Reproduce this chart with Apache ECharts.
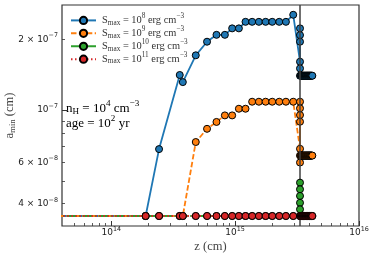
<!DOCTYPE html>
<html><head><meta charset="utf-8">
<script src="https://cdn.jsdelivr.net/npm/echarts@6/dist/echarts.min.js"></script>
<style>html,body{margin:0;padding:0;background:#fff}#c{width:374px;height:260px}</style>
</head><body><div id="c"></div>
<script>
// ---- data ----
const seriesExps = ['8', '9', '10', '11'];
const seriesColors = ['#1f77b4', '#ff7f0e', '#2ca02c', '#d62728'];
const zMain = [1e13, 1.894e14, 2.43e14, 3.57e14, 3.78e14, 4.81e14, 5.93e14, 7.07e14, 8.26e14, 9.46e14,
  1.072e15, 1.213e15, 1.372e15, 1.555e15, 1.762e15, 1.993e15, 2.27e15, 2.57e15, 2.944e15];
const blueMain = [3.54e-8, 3.54e-8, 6.82e-8, 1.41e-7, 1.315e-7, 1.71e-7, 1.954e-7, 2.09e-7, 2.09e-7, 2.227e-7,
  2.227e-7, 2.374e-7, 2.374e-7, 2.374e-7, 2.374e-7, 2.374e-7, 2.374e-7, 2.374e-7, 2.544e-7];
const orangeMain = [3.54e-8, 3.54e-8, 3.54e-8, 3.54e-8, 3.54e-8, 7.31e-8, 8.32e-8, 8.9e-8, 9.49e-8, 9.49e-8,
  1.013e-7, 1.013e-7, 1.085e-7, 1.085e-7, 1.085e-7, 1.085e-7, 1.085e-7, 1.085e-7, 1.085e-7];
const greenMain = [3.54e-8, 3.54e-8, 3.54e-8, 3.54e-8, 3.54e-8, 3.54e-8, 3.54e-8, 3.54e-8, 3.54e-8, 3.54e-8,
  3.54e-8, 3.54e-8, 3.54e-8, 3.54e-8, 3.54e-8, 3.54e-8, 3.54e-8, 3.54e-8, 3.54e-8];
const redMain = [3.54e-8, 3.54e-8, 3.54e-8, 3.54e-8, 3.54e-8, 3.54e-8, 3.54e-8, 3.54e-8, 3.54e-8, 3.54e-8,
  3.54e-8, 3.54e-8, 3.54e-8, 3.54e-8, 3.54e-8, 3.54e-8, 3.54e-8, 3.54e-8, 3.54e-8];
const zShock = 3.34e15;
const blueShock = [1.606e-7, 2.227e-7, 2.084e-7, 1.954e-7, 1.504e-7, 1.40e-7];
const orangeShock = [6.84e-8, 1.085e-7, 1.017e-7, 9.52e-8, 8.92e-8, 5.98e-8, 6.4e-8];
const greenShock = [3.54e-8, 4.91e-8, 4.6e-8, 4.31e-8, 4.03e-8, 3.78e-8, 3.54e-8];
const redShock = [3.54e-8];
const zTail = [3.37e15, 3.40e15, 3.43e15, 3.46e15, 3.49e15, 3.52e15, 3.55e15, 3.58e15, 3.61e15, 3.64e15,
  3.67e15, 3.70e15, 3.73e15, 3.76e15, 3.79e15, 3.82e15, 3.85e15, 3.88e15, 3.91e15, 3.94e15,
  3.97e15, 4.00e15, 4.03e15, 4.06e15, 4.09e15, 4.12e15, 4.16e15, 4.20e15];
const blueTail = [1.40e-7, 1.40e-7, 1.40e-7, 1.40e-7, 1.40e-7, 1.40e-7, 1.40e-7, 1.40e-7, 1.40e-7, 1.40e-7,
  1.40e-7, 1.40e-7, 1.40e-7, 1.40e-7, 1.40e-7, 1.40e-7, 1.40e-7, 1.40e-7, 1.40e-7, 1.40e-7,
  1.40e-7, 1.40e-7, 1.40e-7, 1.40e-7, 1.40e-7, 1.40e-7, 1.40e-7, 1.40e-7];
const orangeTail = [6.4e-8, 6.4e-8, 6.4e-8, 6.4e-8, 6.4e-8, 6.4e-8, 6.4e-8, 6.4e-8, 6.4e-8, 6.4e-8,
  6.4e-8, 6.4e-8, 6.4e-8, 6.4e-8, 6.4e-8, 6.4e-8, 6.4e-8, 6.4e-8, 6.4e-8, 6.4e-8,
  6.4e-8, 6.4e-8, 6.4e-8, 6.4e-8, 6.4e-8, 6.4e-8, 6.4e-8, 6.4e-8];
const greenTail = [3.54e-8, 3.54e-8, 3.54e-8, 3.54e-8, 3.54e-8, 3.54e-8, 3.54e-8, 3.54e-8, 3.54e-8, 3.54e-8,
  3.54e-8, 3.54e-8, 3.54e-8, 3.54e-8, 3.54e-8, 3.54e-8, 3.54e-8, 3.54e-8, 3.54e-8, 3.54e-8,
  3.54e-8, 3.54e-8, 3.54e-8, 3.54e-8, 3.54e-8, 3.54e-8, 3.54e-8, 3.54e-8];
const redTail = [3.54e-8, 3.54e-8, 3.54e-8, 3.54e-8, 3.54e-8, 3.54e-8, 3.54e-8, 3.54e-8, 3.54e-8, 3.54e-8,
  3.54e-8, 3.54e-8, 3.54e-8, 3.54e-8, 3.54e-8, 3.54e-8, 3.54e-8, 3.54e-8, 3.54e-8, 3.54e-8,
  3.54e-8, 3.54e-8, 3.54e-8, 3.54e-8, 3.54e-8, 3.54e-8, 3.54e-8, 3.54e-8];

const xMin = 4e13, xMax = 1e16, yMin = 3.21e-8, yMax = 2.8e-7;
const xMajorTicks = [1e14, 1e15, 1e16];
const xTickExps = ['14', '15', '16'];
const xMinorTicks = [5e13, 6e13, 7e13, 8e13, 9e13, 2e14, 3e14, 4e14, 5e14, 6e14, 7e14, 8e14, 9e14,
  2e15, 3e15, 4e15, 5e15, 6e15, 7e15, 8e15, 9e15];
const yMajorTicks = [1e-7];
const yMinorTicks = [4e-8, 5e-8, 6e-8, 7e-8, 8e-8, 9e-8, 2e-7];
const yLabelTicks = [4e-8, 6e-8, 1e-7, 2e-7];
const yLabelMant = ['4', '6', '', '2'];
const yLabelExps = ['−8', '−8', '−7', '−7'];

// ---- build ----
const L = Math.log10;
function build(main, shock, tail) {
  const pts = zMain.map((z, i) => [z, main[i]]);
  shock.forEach(a => pts.push([zShock, a]));
  zTail.forEach((z, i) => pts.push([z, tail[i]]));
  return pts;
}
const datasets = [build(blueMain, blueShock, blueTail), build(orangeMain, orangeShock, orangeTail),
  build(greenMain, greenShock, greenTail), build(redMain, redShock, redTail)];
const dashes = ['solid', [5.5, 2.4], [9.6, 2.4, 1.5, 2.4], [1.5, 2.5]];
const names = seriesExps.map(e => 'S' + e);

const sansFont = 'DejaVu Sans';
const serifFont = 'Liberation Serif';
const tickRich = {
  b: { fontFamily: sansFont, fontSize: 9, color: '#222' },
  s: { fontFamily: sansFont, fontSize: 6.4, color: '#222', padding: [0, 0, 7, 0] }
};
const serifRich = (fs, color) => ({
  t: { fontFamily: serifFont, fontSize: fs, color: color },
  sup: { fontFamily: serifFont, fontSize: fs * 0.7, color: color, padding: [0, 0, fs * 0.75, 0] },
  sub: { fontFamily: serifFont, fontSize: fs * 0.7, color: color, padding: [fs * 0.45, 0, 0, 0] }
});

function findIdx(arr, v) {
  for (let i = 0; i < arr.length; i++) if (Math.abs(L(arr[i]) - v) < 1e-6) return i;
  return -1;
}

const series = datasets.map((d, i) => ({
  name: names[i], type: 'line', data: d, xAxisIndex: 0, yAxisIndex: 0,
  symbol: 'circle', symbolSize: 7, showSymbol: true, z: 3 + i,
  lineStyle: { color: seriesColors[i], width: 1.8, type: dashes[i] },
  itemStyle: { color: seriesColors[i], borderColor: '#000', borderWidth: 1 },
  emphasis: { disabled: true }, animation: false, clip: true
}));
series.push({
  type: 'line', data: [], xAxisIndex: 0, yAxisIndex: 0, z: 2,
  markLine: { silent: true, symbol: 'none', animation: false, label: { show: false },
    lineStyle: { color: '#404040', width: 1.5, type: 'solid' }, data: [{ xAxis: zShock }] }
});

const gridCfg = { left: 62, top: 5, width: 297, height: 221 };
const baseX = { gridIndex: 0, position: 'bottom', axisLine: { show: false, onZero: false }, splitLine: { show: false } };
const baseY = { gridIndex: 0, position: 'left', axisLine: { show: false, onZero: false }, splitLine: { show: false } };

const option = {
  animation: false,
  backgroundColor: '#fff',
  grid: Object.assign({ show: true, borderColor: '#333', borderWidth: 1.2, backgroundColor: 'transparent',
    containLabel: false, outerBoundsMode: 'none' }, gridCfg),
  legend: {
    orient: 'vertical', left: 65, top: 8, itemWidth: 25, itemHeight: 9, itemGap: -0.3,
    data: names, selectedMode: false,
    formatter: n => '{t|S}{sub|max}{t| = 10}{sup|' + n.slice(1) + '}{t| erg cm}{sup|−3}',
    textStyle: { rich: serifRich(10.4, '#333'), padding: [0, 0, 0, 1] }
  },
  xAxis: [
    Object.assign({}, baseX, { type: 'log', logBase: 10, min: xMin, max: xMax, axisTick: { show: false }, axisLabel: { show: false } }),
    Object.assign({}, baseX, { type: 'value', min: L(xMin), max: L(xMax),
      name: '{t|z (cm)}', nameLocation: 'middle', nameGap: 14, nameMoveOverlap: false,
      nameTextStyle: { rich: serifRich(12.5, '#444') },
      axisTick: { show: true, inside: true, length: 5, lineStyle: { color: '#333', width: 1 }, customValues: xMajorTicks.map(L) },
      axisLabel: { show: true, margin: 0, customValues: xMajorTicks.map(L), rich: tickRich,
        formatter: v => { const i = findIdx(xMajorTicks, v); return i < 0 ? '' : '{b|10}{s|' + xTickExps[i] + '}'; } } }),
    Object.assign({}, baseX, { type: 'value', min: L(xMin), max: L(xMax),
      axisTick: { show: true, inside: true, length: 3, lineStyle: { color: '#333', width: 0.8 }, customValues: xMinorTicks.map(L) },
      axisLabel: { show: false } })
  ],
  yAxis: [
    Object.assign({}, baseY, { type: 'log', logBase: 10, min: yMin, max: yMax, axisTick: { show: false }, axisLabel: { show: false } }),
    Object.assign({}, baseY, { type: 'value', min: L(yMin), max: L(yMax),
      name: '{t|a}{sub|min}{t| (cm)}', nameLocation: 'middle', nameGap: 45, nameRotate: 90, nameMoveOverlap: false,
      nameTextStyle: { rich: serifRich(12.5, '#444') },
      axisTick: { show: true, inside: true, length: 6, lineStyle: { color: '#333', width: 1 }, customValues: yMajorTicks.map(L) },
      axisLabel: { show: true, margin: 4, customValues: yLabelTicks.map(L), rich: tickRich,
        formatter: v => { const i = findIdx(yLabelTicks, v); if (i < 0) return ''; return (yLabelMant[i] ? '{b|' + yLabelMant[i] + ' × 10}' : '{b|10}') + '{s|' + yLabelExps[i] + '}'; } } }),
    Object.assign({}, baseY, { type: 'value', min: L(yMin), max: L(yMax),
      axisTick: { show: true, inside: true, length: 3, lineStyle: { color: '#333', width: 0.8 }, customValues: yMinorTicks.map(L) },
      axisLabel: { show: false } })
  ],
  graphic: [
    { type: 'text', left: 66, top: 99, style: { text: '{t|n}{sub|H}{t| = 10}{sup|4}{t| cm}{sup|−3}', rich: serifRich(13, '#555') } },
    { type: 'text', left: 66, top: 114, style: { text: '{t|age = 10}{sup|2}{t| yr}', rich: serifRich(13, '#555') } }
  ],
  series: series
};
const chart = echarts.init(document.getElementById('c'), null, { renderer: 'canvas' });
chart.setOption(option);
</script></body></html>
